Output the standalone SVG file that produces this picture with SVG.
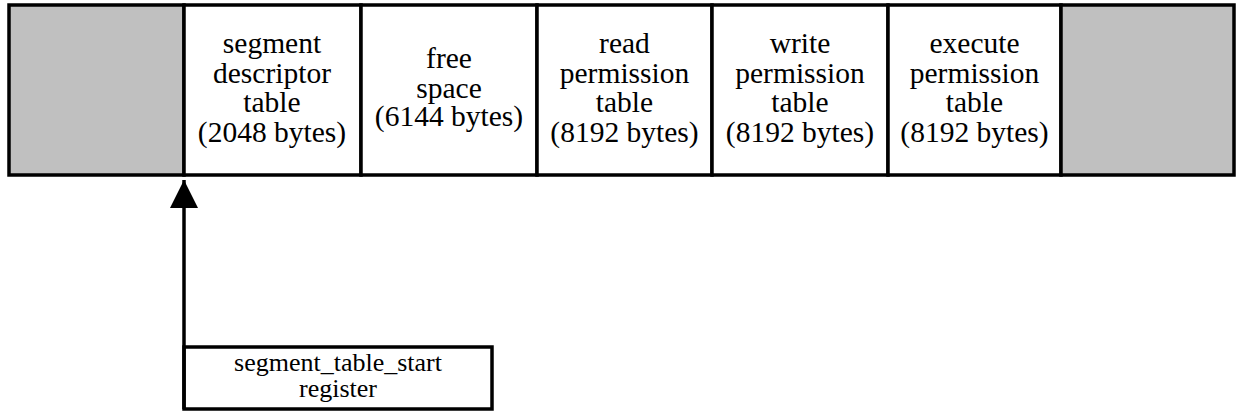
<svg xmlns="http://www.w3.org/2000/svg" width="1236" height="412" viewBox="0 0 1236 412">
  <style>
    .cell { stroke: #000; stroke-width: 3.5; fill: #fff; }
    .shade { fill: #c0c0c0; }
    .lbl { font-size: 29.5px; fill: #000; text-anchor: middle; }
    .reg { font-size: 26px; fill: #000; text-anchor: middle; }
    .wire { stroke: #000; stroke-width: 3.5; fill: none; }
  </style>
  <defs>
    <marker id="head" markerUnits="userSpaceOnUse" markerWidth="30" markerHeight="30" viewBox="0 0 30 30" refX="28" refY="15" orient="auto">
      <path d="M0,1 L28,15 L0,29 Z" fill="#000"/>
    </marker>
  </defs>

  <rect width="1236" height="412" fill="#fff"/>

  <g font-family="Liberation Serif, Times New Roman, Times, serif">
    <!-- memory layout strip -->
    <g id="reserved-low">
      <rect class="cell shade" x="9" y="5" width="175" height="170"/>
    </g>
    <g id="segment-descriptor-table">
      <rect class="cell" x="184" y="5" width="177" height="170"/>
      <text class="lbl" x="272" y="53">segment</text>
      <text class="lbl" x="272" y="82.5">descriptor</text>
      <text class="lbl" x="272" y="112">table</text>
      <text class="lbl" x="272" y="141.5">(2048 bytes)</text>
    </g>
    <g id="free-space">
      <rect class="cell" x="361" y="5" width="176" height="170"/>
      <text class="lbl" x="449" y="68">free</text>
      <text class="lbl" x="449" y="97.5">space</text>
      <text class="lbl" x="449" y="126">(6144 bytes)</text>
    </g>
    <g id="read-permission-table">
      <rect class="cell" x="537" y="5" width="175" height="170"/>
      <text class="lbl" x="624.5" y="53">read</text>
      <text class="lbl" x="624.5" y="82.5">permission</text>
      <text class="lbl" x="624.5" y="112">table</text>
      <text class="lbl" x="624.5" y="141.5">(8192 bytes)</text>
    </g>
    <g id="write-permission-table">
      <rect class="cell" x="712" y="5" width="176" height="170"/>
      <text class="lbl" x="800" y="53">write</text>
      <text class="lbl" x="800" y="82.5">permission</text>
      <text class="lbl" x="800" y="112">table</text>
      <text class="lbl" x="800" y="141.5">(8192 bytes)</text>
    </g>
    <g id="execute-permission-table">
      <rect class="cell" x="888" y="5" width="173" height="170"/>
      <text class="lbl" x="974.5" y="53">execute</text>
      <text class="lbl" x="974.5" y="82.5">permission</text>
      <text class="lbl" x="974.5" y="112">table</text>
      <text class="lbl" x="974.5" y="141.5">(8192 bytes)</text>
    </g>
    <g id="reserved-high">
      <rect class="cell shade" x="1061" y="5" width="173" height="170"/>
    </g>

    <!-- register -->
    <g id="segment-table-start-register">
      <rect class="cell" x="184" y="347" width="308" height="62"/>
      <text class="reg" x="338" y="371">segment_table_start</text>
      <text class="reg" x="338" y="397">register</text>
    </g>
  </g>

  <!-- pointer from register to start of descriptor table -->
  <g id="connectors">
    <path class="wire" d="M184,409 L184,180" marker-end="url(#head)"/>
  </g>
</svg>
